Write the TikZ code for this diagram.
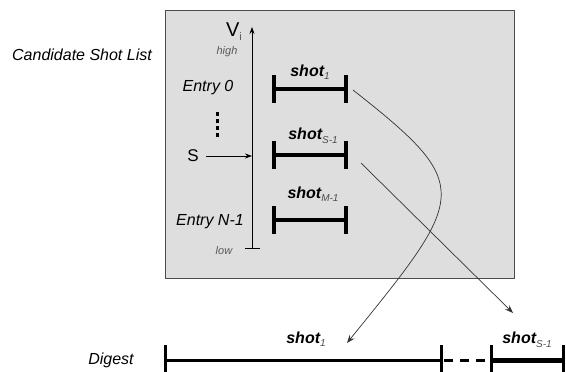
\documentclass[tikz,border=0pt]{standalone}
\usepackage{fontspec}
\setmainfont{Liberation Sans}
\usetikzlibrary{arrows.meta}
\newcommand{\shotsub}[1]{\raisebox{-3.5pt}{\fontsize{10}{10}\selectfont\mdseries\itshape\color{black!70}#1}}
\begin{document}
\begin{tikzpicture}[x=1pt,y=-1pt,
  lbl/.style={font=\fontsize{16}{18}\selectfont\itshape, inner sep=0pt},
  shotlbl/.style={font=\fontsize{16}{18}\selectfont\bfseries\itshape, inner sep=0pt},
  small/.style={font=\fontsize{11}{12}\selectfont\itshape, text=black!65, inner sep=0pt},
  bar/.style={line width=4pt},
  dbar/.style={line width=3pt},
  conn/.style={draw=black!80, line width=0.7pt, -{Stealth[length=8pt,width=6pt]}},
  axis/.style={line width=0.8pt},
]
\useasboundingbox (0,0) rectangle (566,372);

% candidate list panel
\node[draw=black!70, fill=black!13, line width=1pt, minimum width=349pt,
      minimum height=268pt, anchor=north west, inner sep=0pt] (panel) at (165,10) {};
\node[lbl] (cand) at (82,55) {Candidate Shot List};

% value axis
\coordinate (axtop) at (252,27);
\coordinate (axbot) at (252,248);
\coordinate (lowL) at (245,248);
\coordinate (lowR) at (260,248);
\draw[axis, -{Stealth[length=7pt,width=5pt]}] (axbot) -- (axtop);
\draw[axis] (lowL) -- (lowR);
\node[inner sep=0pt, font=\fontsize{20}{22}\selectfont] (vi) at (234,32) {V\raisebox{-4pt}{\fontsize{11}{11}\selectfont\color{black!65}i}};
\node[small] (high) at (227,52) {high};
\node[small] (low) at (224,251) {low};

% entries
\node[lbl] (e0) at (208,88) {Entry 0};
\node[lbl] (en) at (210,222) {Entry N-1};
\foreach \yy in {112,119,126,133}
  \fill (215.5,\yy) rectangle (218.5,\yy+3.5);
\node[inner sep=0pt, font=\fontsize{17}{18}\selectfont] (s) at (193,156) {S};
\coordinate (sax) at (252,156);
\draw[axis, -{Stealth[length=7pt,width=5pt]}] (206,156) -- (sax);

% shots in the list
\foreach \nm/\yy in {a/89, b/155, c/220}{
  \coordinate (\nm L) at (274,\yy);
  \coordinate (\nm R) at (346,\yy);
  \draw[bar] (\nm L) -- (\nm R);
  \draw[bar] (274,\yy-14) -- (274,\yy+14);
  \draw[bar] (346,\yy-14) -- (346,\yy+14);
}
\node[shotlbl] (la) at (310,72) {shot\shotsub{1}};
\node[shotlbl] (lb) at (313,136) {shot\shotsub{S-1}};
\node[shotlbl] (lc) at (313,194) {shot\shotsub{M-1}};

% digest
\node[lbl] (dig) at (111,360) {Digest};
\coordinate (d0) at (165,360);
\coordinate (d1) at (441,360);
\coordinate (d2) at (491,360);
\coordinate (d3) at (563,360);
\draw[dbar] (d0) -- (d1);
\draw[dbar, dash pattern=on 9pt off 7pt, dash phase=-3pt] (d1) -- (d2);
\draw[line width=5pt] (d2) -- (d3);
\foreach \xx in {165,441,491,563}
  \draw[dbar] (\xx,345) -- (\xx,376);
\node[shotlbl] (da) at (306,339) {shot\shotsub{1}};
\node[shotlbl] (db) at (527,340) {shot\shotsub{S-1}};

% mapping arrows
\coordinate (aout) at (353,90);
\coordinate (bout) at (361,163);
\coordinate (ain) at (347,343);
\coordinate (bin) at (513,313);
\draw[conn] (aout) .. controls (475,186) and (467,195) .. (ain);
\draw[conn] (bout) -- (bin);
\end{tikzpicture}
\end{document}
